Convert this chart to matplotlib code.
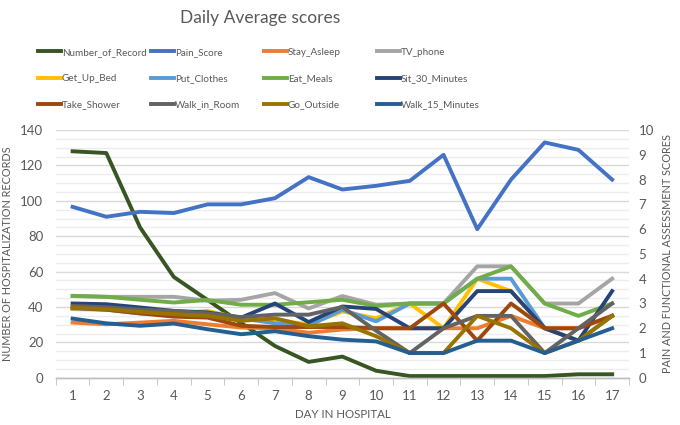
import numpy as np
import matplotlib.pyplot as plt
from matplotlib.ticker import MultipleLocator

plt.rcParams['font.family'] = ['Lato', 'DejaVu Sans']

days = list(range(1, 18))

# left axis
number_of_record = [128, 127, 85, 57, 44, 31, 18, 9, 12, 4, 1, 1, 1, 1, 1, 2, 2]

# right axis
pain_score = [6.9, 6.5, 6.7, 6.65, 7.0, 7.0, 7.25, 8.1, 7.6, 7.75, 7.95, 9.0, 6.0, 8.0, 9.5, 9.2, 8.0]
stay_asleep = [2.23, 2.16, 2.23, 2.3, 2.16, 2.03, 2.0, 1.82, 1.95, 2.0, 2.0, 2.0, 2.0, 2.5, 2.0, 2.0, 2.5]
tv_phone = [3.3, 3.27, 3.27, 3.27, 3.11, 3.15, 3.42, 2.8, 3.3, 2.95, 3.0, 3.0, 4.5, 4.5, 3.0, 3.0, 4.0]
get_up_bed = [2.77, 2.75, 2.65, 2.6, 2.7, 2.4, 2.35, 2.15, 2.68, 2.4, 3.0, 2.0, 4.0, 3.5, 2.0, 1.5, 2.5]
put_clothes = [2.8, 2.75, 2.6, 2.6, 2.55, 2.4, 2.2, 2.1, 2.75, 2.28, 3.0, 3.0, 4.0, 4.0, 2.0, 1.5, 2.5]
eat_meals = [3.31, 3.27, 3.15, 3.04, 3.14, 2.95, 2.95, 3.05, 3.15, 2.9, 3.0, 3.0, 4.0, 4.5, 3.0, 2.5, 3.0]
sit_30_minutes = [3.0, 2.97, 2.84, 2.7, 2.64, 2.43, 3.0, 2.25, 2.88, 2.78, 2.0, 2.0, 3.5, 3.5, 2.0, 1.5, 3.5]
take_shower = [2.83, 2.75, 2.6, 2.47, 2.43, 2.1, 2.05, 2.05, 2.05, 2.0, 2.0, 3.0, 1.5, 3.0, 2.0, 2.0, 2.5]
walk_in_room = [2.9, 2.85, 2.75, 2.7, 2.6, 2.45, 2.55, 2.55, 2.86, 1.9, 1.0, 2.0, 2.5, 2.5, 1.0, 2.0, 3.0]
go_outside = [2.83, 2.77, 2.66, 2.57, 2.5, 2.3, 2.4, 2.08, 2.2, 1.68, 1.0, 1.0, 2.5, 2.0, 1.0, 1.5, 2.5]
walk_15_minutes = [2.39, 2.2, 2.1, 2.19, 1.96, 1.76, 1.88, 1.68, 1.54, 1.47, 1.0, 1.0, 1.5, 1.5, 1.0, 1.5, 2.0]

series = [
    ("Pain_Score", pain_score, "#4472C4"),
    ("Stay_Asleep", stay_asleep, "#ED7D31"),
    ("TV_phone", tv_phone, "#A5A5A5"),
    ("Get_Up_Bed", get_up_bed, "#FFC000"),
    ("Put_Clothes", put_clothes, "#5B9BD5"),
    ("Eat_Meals", eat_meals, "#70AD47"),
    ("Sit_30_Minutes", sit_30_minutes, "#264478"),
    ("Take_Shower", take_shower, "#9E480E"),
    ("Walk_in_Room", walk_in_room, "#636363"),
    ("Go_Outside", go_outside, "#997300"),
    ("Walk_15_Minutes", walk_15_minutes, "#255E91"),
]

txt = "#595959"
lw = 2.8

fig = plt.figure(figsize=(6.8, 4.25), dpi=100)
ax = fig.add_axes([0.082, 0.111, 0.843, 0.583])
ax2 = ax.twinx()

handles = []
h, = ax.plot(days, number_of_record, color="#375623", lw=lw, label="Number_of_Record")
handles.append(h)
for name, vals, col in series:
    h, = ax2.plot(days, vals, color=col, lw=lw, label=name)
    handles.append(h)

ax.set_xlim(0.5, 17.5)
ax.set_ylim(0, 140)
ax2.set_ylim(0, 10)
ax.set_xticks(days)
ax.xaxis.set_minor_locator(MultipleLocator(1, offset=0.5))
ax.yaxis.set_major_locator(MultipleLocator(20))
ax.yaxis.set_minor_locator(MultipleLocator(5))
ax2.yaxis.set_major_locator(MultipleLocator(1))

ax.grid(axis="y", which="major", color="#D9D9D9", lw=1.0)
ax.grid(axis="y", which="minor", color="#EDEDED", lw=1.0)
ax.set_axisbelow(True)

for a in (ax, ax2):
    for s in ("top", "left", "right"):
        a.spines[s].set_visible(False)
    a.spines["bottom"].set_color("#BFBFBF")
    a.spines["bottom"].set_linewidth(1.0)

ax.tick_params(axis="x", which="major", length=0, labelsize=9.5, labelcolor=txt, pad=9)
ax.tick_params(axis="x", which="minor", length=5, color="#BFBFBF", direction="out")
ax.tick_params(axis="y", which="both", length=0, labelsize=9.5, labelcolor=txt, pad=9)
ax2.tick_params(axis="y", which="both", length=0, labelsize=9.5, labelcolor=txt, pad=7)

ax.set_xlabel("DAY IN HOSPITAL", fontsize=8.3, color=txt, labelpad=5)
ax.set_ylabel("NUMBER OF HOSPITALIZATION RECORDS", fontsize=7.8, color=txt, labelpad=5)
ax2.set_ylabel("PAIN AND FUNCTIONAL ASSESSMENT SCORES", fontsize=7.8, color=txt, labelpad=6)

fig.text(260 / 680, 1 - 18 / 425, "Daily Average scores", fontsize=12.5, color=txt,
         ha="center", va="center")

# excel fills the legend row by row, one fixed-width column each
col_x = [37, 150, 263, 376]
for c in range(4):
    hs = handles[c::4]
    fig.legend(hs, [x.get_label() for x in hs], ncol=1, loc="upper left",
               bbox_to_anchor=(col_x[c] / 680 - 0.005, 1 - 44 / 425), frameon=False,
               fontsize=7.1, labelcolor=txt, handlelength=2.35, handletextpad=0.1,
               labelspacing=1.75, borderaxespad=0)

fig.savefig("out.png", dpi=100)
